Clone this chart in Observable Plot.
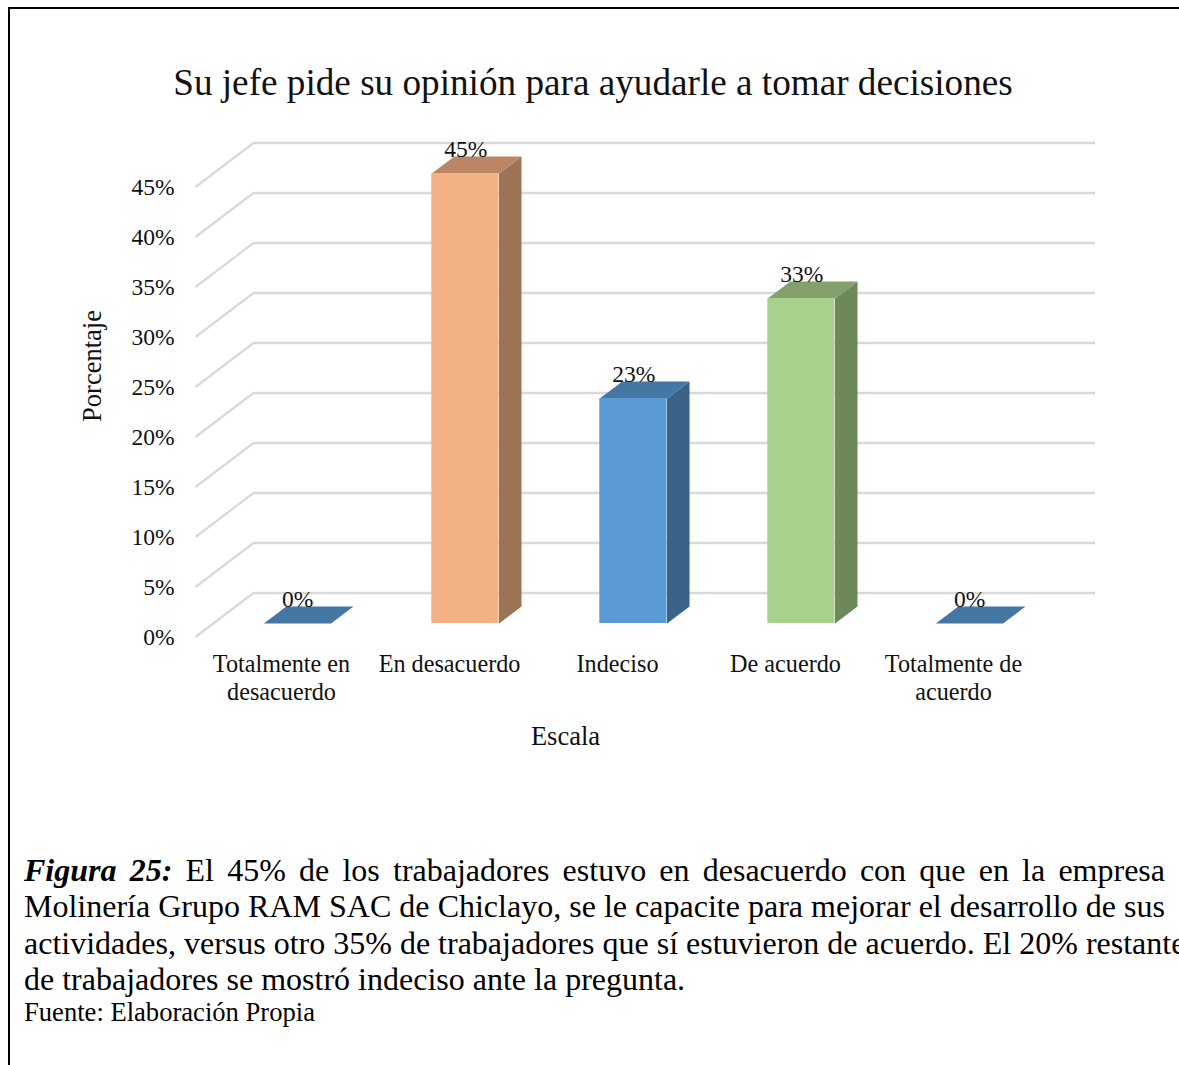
<!DOCTYPE html>
<html lang="es">
<head>
<meta charset="utf-8">
<script src="https://cdn.jsdelivr.net/npm/d3@7"></script>
<script src="https://cdn.jsdelivr.net/npm/@observablehq/plot@0.6"></script>
<style>
  html, body { margin: 0; padding: 0; background: #fff; }
  #page { position: relative; width: 1179px; height: 1065px; overflow: hidden; font-family: "Liberation Serif", serif; color: #000; }
  #frame { position: absolute; left: 8px; top: 7px; width: 1171px; height: 1058px; box-sizing: border-box; border: solid #000; border-width: 2px 0 0 2px; }
  #title { position: absolute; left: 0; width: 1186px; top: 61px; text-align: center; font-size: 37.2px; line-height: 44px; color: #111; white-space: nowrap; }
  #chart { position: absolute; left: 0; top: 120px; }
  .cap { position: absolute; left: 24px; width: 1141px; font-size: 32px; line-height: 36px; white-space: nowrap; text-align: justify; text-align-last: justify; }
  .cap.last { text-align-last: left; }
  #source { position: absolute; left: 24px; top: 997px; font-size: 26.6px; line-height: 30px; white-space: nowrap; }
</style>
</head>
<body>
<div id="page">
  <div id="frame"></div>
  <div id="title"></div>
  <div id="chart"></div>
  <div class="cap" style="top:852px"><b><i>Figura 25:</i></b> El 45% de los trabajadores estuvo en desacuerdo con que en la empresa</div>
  <div class="cap" style="top:888px">Molinería Grupo RAM SAC de Chiclayo, se le capacite para mejorar el desarrollo de sus</div>
  <div class="cap" style="top:925px">actividades, versus otro 35% de trabajadores que sí estuvieron de acuerdo. El 20% restante</div>
  <div class="cap last" style="top:961px">de trabajadores se mostró indeciso ante la pregunta.</div>
  <div id="source">Fuente: Elaboración Propia</div>
</div>
<script>
const titleText = "Su jefe pide su opinión para ayudarle a tomar decisiones";
const categories = ["Totalmente en\ndesacuerdo", "En desacuerdo", "Indeciso", "De acuerdo", "Totalmente de\nacuerdo"];
const values = [0, 45, 22.5, 32.5, 0];
const valueLabels = ["0%", "45%", "23%", "33%", "0%"];
const frontColors = ["#5B9BD5", "#F4B183", "#5B9BD5", "#A9D18E", "#5B9BD5"];
const topColors = ["#4577A5", "#BB8663", "#4577A5", "#829F6C", "#4577A5"];
const sideColors = ["#396387", "#9C7354", "#396387", "#6E885A", "#396387"];
const yTicks = [0, 5, 10, 15, 20, 25, 30, 35, 40, 45];

document.getElementById("title").textContent = titleText;

const W = 1179, H = 640, TOP = 120;
const barHalf = 0.2, depthX = 0.134, depthY = 1.7;   // bar geometry in data units
const wallX0 = -0.012, wallX1 = 5;
const wallDX = 0.3452, wallDY = 4.4;                 // depth of the floor/side wall
const barDx = 15.9, barDy = -13.5;

const bars = categories.map((c, i) => ({i, c, v: values[i], l: valueLabels[i], cx: i + 0.5,
  front: frontColors[i], top: topColors[i], side: sideColors[i]}));

const faces = [];
for (const b of bars) {
  const x0 = b.cx - barHalf, x1 = b.cx + barHalf;
  const pts = (name, fill, arr) => arr.forEach(([x, y]) => faces.push({id: b.i + name, fill, x, y}));
  if (b.v > 0) pts("s", b.side, [[x1, 0], [x1 + depthX, depthY], [x1 + depthX, b.v + depthY], [x1, b.v]]);
  pts("t", b.top, [[x0, b.v], [x0 + depthX, b.v + depthY], [x1 + depthX, b.v + depthY], [x1, b.v]]);
}

const plot = Plot.plot({
  width: W, height: H,
  marginLeft: 195, marginRight: W - 1037,
  marginTop: 186.5 - TOP, marginBottom: H - (636.5 - TOP),
  style: {fontFamily: "Liberation Serif, serif", background: "transparent", overflow: "visible"},
  x: {type: "linear", domain: [wallX0, wallX1]},
  y: {type: "linear", domain: [0, 45]},
  marks: [
    Plot.ruleY(yTicks, {x1: wallX0, x2: wallX1, dx: 58, dy: -44, stroke: "#D9D9D9", strokeWidth: 2.6}),
    Plot.link(yTicks, {x1: wallX0, x2: wallX0 + wallDX, y1: d => d, y2: d => d + wallDY, stroke: "#D9D9D9", strokeWidth: 2.2}),
    Plot.line(faces, {x: "x", y: "y", z: "id", fill: "fill", stroke: "none", dx: barDx, dy: barDy, curve: "linear"}),
    Plot.rect(bars.filter(b => b.v > 0), {x1: b => b.cx - barHalf, x2: b => b.cx + barHalf, y1: 0, y2: "v", fill: "front", dx: barDx, dy: barDy}),
    Plot.text(bars, {x: "cx", y: "v", text: "l", dx: barDx + 0.3, dy: barDy - 24, fontSize: 23.5, fill: "#111", lineAnchor: "middle"}),
    Plot.axisY({ticks: yTicks, tickFormat: d => d + "%", tickSize: 0, tickPadding: 21, label: null, fontSize: 23.5, color: "#111"}),
    Plot.axisX(bars.map(b => b.cx), {tickFormat: (d, i) => categories[i], tickSize: 0, tickPadding: 15, label: null, fontSize: 24.2, lineHeight: 1.16, color: "#111", lineAnchor: "top"}),
    Plot.text(["Porcentaje"], {frameAnchor: "left", textAnchor: "middle", rotate: -90, dx: 92 - 195, dy: -46, fontSize: 26.5, fill: "#111"}),
    Plot.text(["Escala"], {frameAnchor: "bottom", textAnchor: "middle", dx: 565 - 616, dy: 108, fontSize: 26.5, fill: "#111"})
  ]
});
document.getElementById("chart").appendChild(plot);
</script>
</body>
</html>
